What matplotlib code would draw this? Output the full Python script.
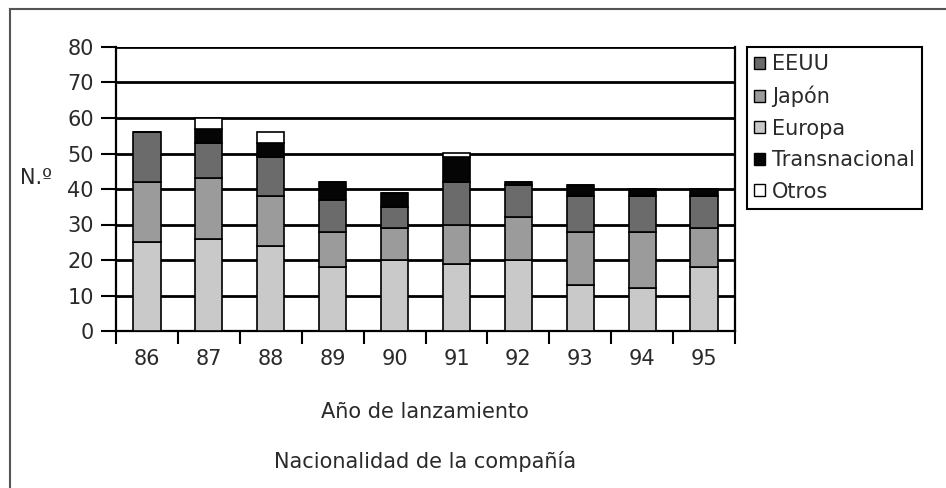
import matplotlib
matplotlib.use('Agg')
import matplotlib.pyplot as plt
import matplotlib.patches as mpatches
import numpy as np

plt.rcParams['font.family'] = ['DejaVu Sans']

years = ['86', '87', '88', '89', '90', '91', '92', '93', '94', '95']
europa = [25, 26, 24, 18, 20, 19, 20, 13, 12, 18]
japon = [17, 17, 14, 10, 9, 11, 12, 15, 16, 11]
eeuu = [14, 10, 11, 9, 6, 12, 9, 10, 10, 9]
transnacional = [0, 4, 4, 5, 4, 7, 1, 3, 2, 2]
otros = [0, 3, 3, 0, 0, 1, 0, 0, 0, 0]

series = [('Europa', europa, '#c9c9c9'),
          ('Japón', japon, '#9b9b9b'),
          ('EEUU', eeuu, '#6b6b6b'),
          ('Transnacional', transnacional, '#050505'),
          ('Otros', otros, '#ffffff')]

txt = '#2a2a2a'
fs = 15.0
fig = plt.figure(figsize=(9.46, 4.88), dpi=100)
ax = fig.add_axes([116/946, 1-331/488, (735-116)/946, (331-47)/488])

x = np.arange(len(years))
bottom = np.zeros(len(years))
patches = {}
for name, vals, col in series:
    vals = np.array(vals, dtype=float)
    ax.bar(x, vals, 0.44, bottom=bottom, color=col, edgecolor='black',
           linewidth=1.2, zorder=3)
    patches[name] = mpatches.Patch(facecolor=col, edgecolor='black', linewidth=1.0, label=name)
    bottom += vals

ax.set_xlim(-0.48, 9.47)
ax.set_ylim(0, 80)
ax.set_yticks(range(0, 81, 10))
ax.yaxis.grid(True, color='black', linewidth=2.0, zorder=1)
ax.set_axisbelow(True)

ax.set_xticks(x)
ax.set_xticklabels(years, fontsize=fs, color=txt)
ax.set_xticks(np.arange(-0.5, 10, 1), minor=True)
ax.tick_params(axis='x', which='major', length=0, pad=13)
ax.tick_params(axis='x', which='minor', length=9, width=1.5, direction='out')
ax.tick_params(axis='y', length=11, width=1.5, direction='out', labelsize=fs,
               labelcolor=txt, pad=5)

for s in ['left', 'bottom', 'right']:
    ax.spines[s].set_linewidth(1.6)
ax.spines['top'].set_visible(False)

fig.text(20/946, 1-178/488, 'N.º', fontsize=fs, color=txt, va='center', ha='left')
fig.text(425/946, 1-412/488, 'Año de lanzamiento', fontsize=fs, color=txt,
         ha='center', va='center')
fig.text(425/946, 1-462/488, 'Nacionalidad de la compañía', fontsize=fs, color=txt,
         ha='center', va='center')

handles = [patches[n] for n in ['EEUU', 'Japón', 'Europa', 'Transnacional', 'Otros']]
leg = fig.legend(handles=handles, loc='upper left',
                 bbox_to_anchor=(747/946, 1-47/488), borderaxespad=0,
                 fontsize=fs, handlelength=0.5, handleheight=0.5,
                 handletextpad=0.35, labelspacing=0.55, borderpad=0.35,
                 fancybox=False, framealpha=1, edgecolor='black')
leg.get_frame().set_linewidth(1.5)
for t in leg.get_texts():
    t.set_color(txt)

# outer frame lines
fig.add_artist(plt.Line2D([10/946, 10/946], [0, 1-9/488], color='#555555',
                          linewidth=1.5, transform=fig.transFigure))
fig.add_artist(plt.Line2D([10/946, 1], [1-9/488, 1-9/488], color='#555555',
                          linewidth=1.5, transform=fig.transFigure))

fig.savefig('out.png', dpi=100)
